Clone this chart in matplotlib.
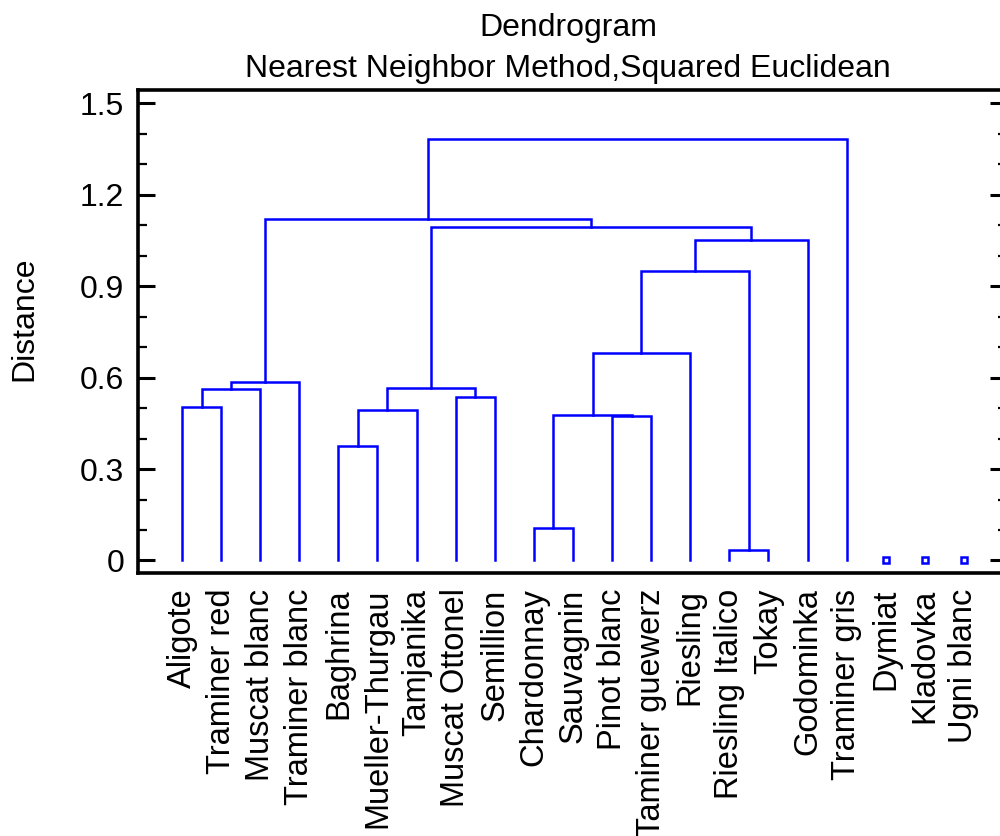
import numpy as np
import matplotlib
matplotlib.use('Agg')
import matplotlib.pyplot as plt
from matplotlib.ticker import MultipleLocator

plt.rcParams['font.family'] = ['Liberation Sans', 'DejaVu Sans']

# leaves, in the order they are drawn
leaves = ['Aligote', 'Traminer red', 'Muscat blanc', 'Traminer blanc', 'Baghrina',
          'Mueller-Thurgau', 'Tamjanika', 'Muscat Ottonel', 'Semillion', 'Chardonnay',
          'Sauvagnin', 'Pinot blanc', 'Taminer guewerz', 'Riesling', 'Riesling Italico',
          'Tokay', 'Godominka', 'Traminer gris', 'Dymiat', 'Kladovka', 'Ugni blanc']
# leaves that never join the tree (drawn as small squares)
singles = ['Dymiat', 'Kladovka', 'Ugni blanc']

# merges: ids < 21 are leaves, id 21+k is the cluster made by merge k
merge_left = [14, 9, 4, 11, 22, 23, 0, 7, 27, 26, 29, 25, 32, 33, 30, 31, 36]
merge_right = [15, 10, 5, 12, 24, 6, 1, 8, 2, 28, 3, 13, 21, 16, 34, 35, 17]
merge_height = [0.036, 0.107, 0.377, 0.475, 0.477, 0.493, 0.503, 0.538, 0.564,
                0.565, 0.584, 0.682, 0.950, 1.050, 1.094, 1.122, 1.382]

yticks = [0, 0.3, 0.6, 0.9, 1.2, 1.5]
ytick_labels = ['0', '0.3', '0.6', '0.9', '1.2', '1.5']

blue = '#0000ff'
fs = 23

fig = plt.figure(figsize=(10, 8.36), dpi=100)
ax = fig.add_axes([0.138, 1 - 573.3 / 836, 0.869, (573.3 - 90) / 836])

n = len(leaves)
xpos = {i: float(i) for i in range(n)}
hpos = {i: 0.0 for i in range(n)}
for k, (a, b, h) in enumerate(zip(merge_left, merge_right, merge_height)):
    xa, xb = xpos[a], xpos[b]
    ax.plot([xa, xa, xb, xb], [hpos[a], h, h, hpos[b]], color=blue, lw=1.8,
            solid_joinstyle='miter')
    xpos[n + k] = (xa + xb) / 2
    hpos[n + k] = h

sx = [leaves.index(s) for s in singles]
ax.plot(sx, np.zeros(len(sx)), 's', ms=5, mfc='white', mec=blue, mew=1.8)

ax.set_xlim(-1.125, 21.1)
ax.set_ylim(-0.042, 1.5436)
ax.set_xticks(range(n))
ax.set_xticklabels(leaves, rotation=90, fontsize=23.5)
ax.set_yticks(yticks)
ax.set_yticklabels(ytick_labels, fontsize=fs)
ax.yaxis.set_minor_locator(MultipleLocator(0.1))

ax.tick_params(axis='x', length=0, pad=11)
ax.tick_params(axis='y', which='major', direction='in', length=12, width=2.2,
               right=True, pad=10)
ax.tick_params(axis='y', which='minor', direction='in', length=6.5, width=1.6,
               right=True)
for s in ax.spines.values():
    s.set_linewidth(2.6)

fig.text(0.568, 1 - 36 / 836, 'Dendrogram', ha='center', va='baseline', fontsize=fs)
fig.text(0.568, 1 - 77 / 836, 'Nearest Neighbor Method,Squared Euclidean',
         ha='center', va='baseline', fontsize=fs)
fig.text(0.024, 1 - 319 / 836, 'Distance', ha='center', va='center',
         rotation=90, fontsize=fs)

fig.savefig('out.png', dpi=100)
